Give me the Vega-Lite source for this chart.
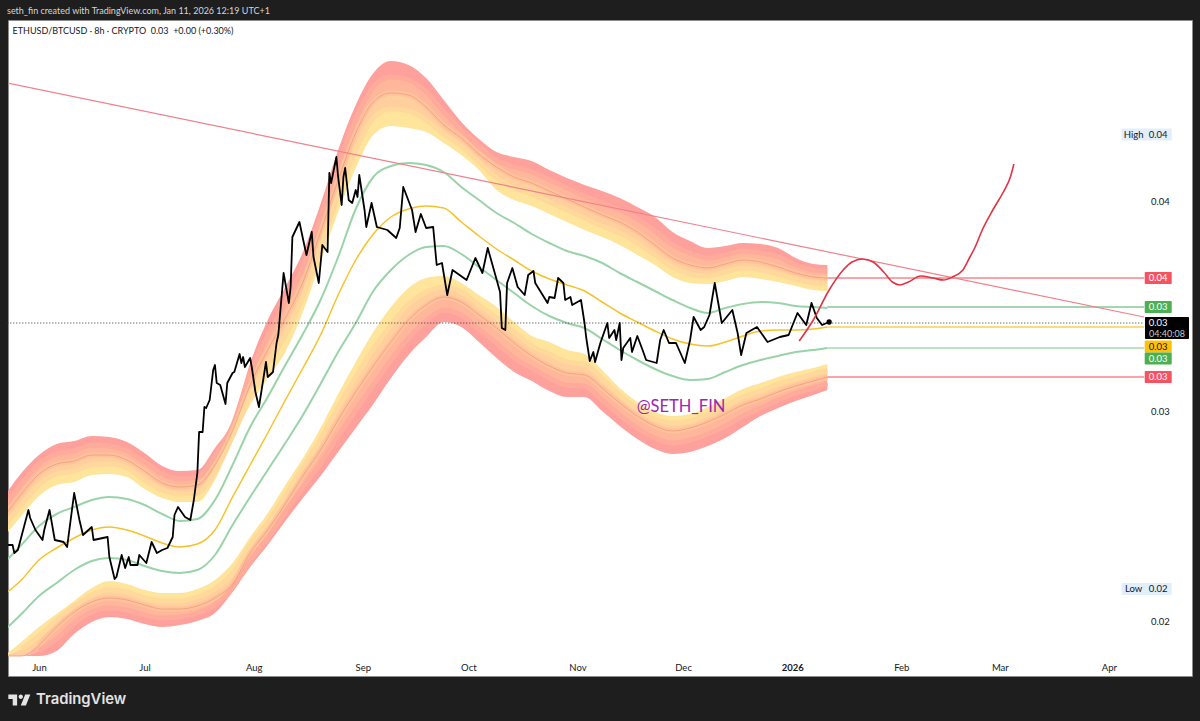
{
"$schema":"https://vega.github.io/schema/vega-lite/v6.json",
"width":1184,"height":656,
"autosize":{"type":"none"},
"padding":{"left":8,"top":20,"right":8,"bottom":45},
"background":"#1e1e1e",
"view":{"fill":"#ffffff","stroke":"#8c8c8c","strokeWidth":1},
"title":{"text":"seth_fin created with TradingView.com, Jan 11, 2026 12:19 UTC+1","anchor":"start","frame":"group","color":"#d6d6d6","fontSize":9,"fontWeight":"normal","font":"Lato","offset":4,"dx":-1},
"datasets":{
"bands":[
{"date":"2025-05-22","u0":0.02672,"u1":0.02632,"u2":0.02592,"u3":0.02552,"u4":0.02512,"gu":0.02408,"ye":0.0228,"gl":0.02136,"l4":0.02036,"l3":0.02036,"l2":0.02036,"l1":0.02036,"l0":0.02036},
{"date":"2025-05-27","u0":0.02768,"u1":0.02724,"u2":0.02684,"u3":0.0264,"u4":0.02596,"gu":0.0248,"ye":0.0234,"gl":0.02204,"l4":0.02092,"l3":0.02064,"l2":0.02036,"l1":0.02036,"l0":0.02036},
{"date":"2025-06-01","u0":0.0284,"u1":0.02804,"u2":0.02764,"u3":0.0272,"u4":0.02676,"gu":0.02556,"ye":0.0242,"gl":0.02276,"l4":0.02152,"l3":0.02116,"l2":0.0208,"l1":0.02056,"l0":0.02036},
{"date":"2025-06-06","u0":0.02884,"u1":0.02844,"u2":0.02804,"u3":0.02764,"u4":0.0272,"gu":0.02604,"ye":0.02468,"gl":0.02328,"l4":0.02204,"l3":0.0218,"l2":0.02152,"l1":0.02104,"l0":0.02056},
{"date":"2025-06-11","u0":0.02896,"u1":0.02856,"u2":0.02816,"u3":0.02776,"u4":0.02732,"gu":0.02632,"ye":0.02508,"gl":0.0238,"l4":0.02256,"l3":0.02236,"l2":0.02212,"l1":0.02168,"l0":0.02124},
{"date":"2025-06-16","u0":0.02916,"u1":0.0288,"u2":0.0284,"u3":0.028,"u4":0.0276,"gu":0.0266,"ye":0.0254,"gl":0.02416,"l4":0.02308,"l3":0.0228,"l2":0.02252,"l1":0.02212,"l0":0.02172},
{"date":"2025-06-21","u0":0.02912,"u1":0.02876,"u2":0.0284,"u3":0.02804,"u4":0.02764,"gu":0.02672,"ye":0.02552,"gl":0.02428,"l4":0.02336,"l3":0.023,"l2":0.02268,"l1":0.02228,"l0":0.02192},
{"date":"2025-06-26","u0":0.02892,"u1":0.02856,"u2":0.0282,"u3":0.02788,"u4":0.02752,"gu":0.02664,"ye":0.0254,"gl":0.0242,"l4":0.02324,"l3":0.02292,"l2":0.0226,"l1":0.0222,"l0":0.02184},
{"date":"2025-07-01","u0":0.02848,"u1":0.02812,"u2":0.02776,"u3":0.0274,"u4":0.02704,"gu":0.0264,"ye":0.02516,"gl":0.02396,"l4":0.023,"l3":0.02268,"l2":0.0224,"l1":0.022,"l0":0.02164},
{"date":"2025-07-06","u0":0.02796,"u1":0.02764,"u2":0.02728,"u3":0.027,"u4":0.02668,"gu":0.02604,"ye":0.02488,"gl":0.02376,"l4":0.02288,"l3":0.02256,"l2":0.02224,"l1":0.02188,"l0":0.02152},
{"date":"2025-07-11","u0":0.02776,"u1":0.02744,"u2":0.02712,"u3":0.02684,"u4":0.02652,"gu":0.02576,"ye":0.02472,"gl":0.02368,"l4":0.02288,"l3":0.02256,"l2":0.02224,"l1":0.02192,"l0":0.0216},
{"date":"2025-07-16","u0":0.0278,"u1":0.02752,"u2":0.0272,"u3":0.02688,"u4":0.02652,"gu":0.02584,"ye":0.02484,"gl":0.0238,"l4":0.02304,"l3":0.02272,"l2":0.02236,"l1":0.02208,"l0":0.02176},
{"date":"2025-07-21","u0":0.02868,"u1":0.02836,"u2":0.028,"u3":0.02772,"u4":0.0274,"gu":0.0266,"ye":0.0254,"gl":0.0244,"l4":0.0234,"l3":0.02304,"l2":0.02268,"l1":0.0224,"l0":0.02208},
{"date":"2025-07-26","u0":0.02976,"u1":0.02956,"u2":0.02936,"u3":0.02916,"u4":0.02896,"gu":0.028,"ye":0.02672,"gl":0.0256,"l4":0.02408,"l3":0.02368,"l2":0.02324,"l1":0.02308,"l0":0.02292},
{"date":"2025-07-31","u0":0.03208,"u1":0.03164,"u2":0.0312,"u3":0.0308,"u4":0.0304,"gu":0.02952,"ye":0.028,"gl":0.02672,"l4":0.02512,"l3":0.0248,"l2":0.02448,"l1":0.0242,"l0":0.02392},
{"date":"2025-08-05","u0":0.0338,"u1":0.0332,"u2":0.0326,"u3":0.03204,"u4":0.03148,"gu":0.03072,"ye":0.02928,"gl":0.0278,"l4":0.02608,"l3":0.02572,"l2":0.0254,"l1":0.02508,"l0":0.0248},
{"date":"2025-08-10","u0":0.03512,"u1":0.03452,"u2":0.03388,"u3":0.0332,"u4":0.03252,"gu":0.032,"ye":0.0306,"gl":0.02888,"l4":0.0272,"l3":0.0268,"l2":0.02644,"l1":0.02612,"l0":0.02576},
{"date":"2025-08-15","u0":0.03652,"u1":0.03592,"u2":0.03532,"u3":0.03472,"u4":0.03412,"gu":0.03324,"ye":0.03188,"gl":0.03,"l4":0.02828,"l3":0.02792,"l2":0.02756,"l1":0.02712,"l0":0.02668},
{"date":"2025-08-20","u0":0.03844,"u1":0.03788,"u2":0.03732,"u3":0.03672,"u4":0.03612,"gu":0.0346,"ye":0.0332,"gl":0.03124,"l4":0.02948,"l3":0.02904,"l2":0.0286,"l1":0.02808,"l0":0.02756},
{"date":"2025-08-25","u0":0.0406,"u1":0.04,"u2":0.0394,"u3":0.03876,"u4":0.03812,"gu":0.03632,"ye":0.0348,"gl":0.03252,"l4":0.03084,"l3":0.03032,"l2":0.0298,"l1":0.02916,"l0":0.02852},
{"date":"2025-08-30","u0":0.0424,"u1":0.04184,"u2":0.04128,"u3":0.0406,"u4":0.03988,"gu":0.03824,"ye":0.0362,"gl":0.03368,"l4":0.03212,"l3":0.03152,"l2":0.03092,"l1":0.0302,"l0":0.02948},
{"date":"2025-09-04","u0":0.04368,"u1":0.04312,"u2":0.04252,"u3":0.04188,"u4":0.0412,"gu":0.03952,"ye":0.03724,"gl":0.03496,"l4":0.03332,"l3":0.03264,"l2":0.03196,"l1":0.0312,"l0":0.03044},
{"date":"2025-09-09","u0":0.04416,"u1":0.04352,"u2":0.04288,"u3":0.04224,"u4":0.04156,"gu":0.03996,"ye":0.03792,"gl":0.0358,"l4":0.03432,"l3":0.0336,"l2":0.03292,"l1":0.0322,"l0":0.03148},
{"date":"2025-09-14","u0":0.044,"u1":0.0434,"u2":0.0428,"u3":0.04216,"u4":0.04148,"gu":0.04008,"ye":0.03824,"gl":0.0364,"l4":0.03508,"l3":0.03444,"l2":0.0338,"l1":0.03308,"l0":0.0324},
{"date":"2025-09-19","u0":0.04348,"u1":0.04292,"u2":0.04232,"u3":0.0418,"u4":0.04132,"gu":0.04,"ye":0.03836,"gl":0.03672,"l4":0.03548,"l3":0.03492,"l2":0.0344,"l1":0.03376,"l0":0.03312},
{"date":"2025-09-24","u0":0.0426,"u1":0.04212,"u2":0.0416,"u3":0.04124,"u4":0.04088,"gu":0.03972,"ye":0.03828,"gl":0.03676,"l4":0.03556,"l3":0.03512,"l2":0.03472,"l1":0.0342,"l0":0.03372},
{"date":"2025-09-29","u0":0.04172,"u1":0.0414,"u2":0.04108,"u3":0.04076,"u4":0.0404,"gu":0.03912,"ye":0.03772,"gl":0.03644,"l4":0.03528,"l3":0.03492,"l2":0.03452,"l1":0.034,"l0":0.03352},
{"date":"2025-10-04","u0":0.04104,"u1":0.04076,"u2":0.04044,"u3":0.04012,"u4":0.0398,"gu":0.0386,"ye":0.03716,"gl":0.03592,"l4":0.0348,"l3":0.0344,"l2":0.034,"l1":0.03344,"l0":0.03292},
{"date":"2025-10-09","u0":0.04052,"u1":0.0402,"u2":0.03992,"u3":0.03948,"u4":0.039,"gu":0.03808,"ye":0.03664,"gl":0.0354,"l4":0.03432,"l3":0.03388,"l2":0.03348,"l1":0.03288,"l0":0.03228},
{"date":"2025-10-14","u0":0.04032,"u1":0.03992,"u2":0.03952,"u3":0.03908,"u4":0.0386,"gu":0.03768,"ye":0.0362,"gl":0.03488,"l4":0.03372,"l3":0.03332,"l2":0.03288,"l1":0.03228,"l0":0.03172},
{"date":"2025-10-19","u0":0.04016,"u1":0.03972,"u2":0.03928,"u3":0.03884,"u4":0.03836,"gu":0.03724,"ye":0.03576,"gl":0.03436,"l4":0.03316,"l3":0.03276,"l2":0.03236,"l1":0.03188,"l0":0.03136},
{"date":"2025-10-24","u0":0.0398,"u1":0.0394,"u2":0.03896,"u3":0.03852,"u4":0.03804,"gu":0.03688,"ye":0.03544,"gl":0.03396,"l4":0.03292,"l3":0.03244,"l2":0.03196,"l1":0.03148,"l0":0.03096},
{"date":"2025-10-29","u0":0.03948,"u1":0.03908,"u2":0.03864,"u3":0.0382,"u4":0.03772,"gu":0.03656,"ye":0.0352,"gl":0.03368,"l4":0.0326,"l3":0.03212,"l2":0.03168,"l1":0.0312,"l0":0.03072},
{"date":"2025-11-03","u0":0.0392,"u1":0.03876,"u2":0.03832,"u3":0.03788,"u4":0.0374,"gu":0.03636,"ye":0.03496,"gl":0.03348,"l4":0.03244,"l3":0.03204,"l2":0.0316,"l1":0.03116,"l0":0.03072},
{"date":"2025-11-08","u0":0.03896,"u1":0.03848,"u2":0.038,"u3":0.03756,"u4":0.03712,"gu":0.03608,"ye":0.03452,"gl":0.03304,"l4":0.0318,"l3":0.03144,"l2":0.03108,"l1":0.0306,"l0":0.03016},
{"date":"2025-11-13","u0":0.03868,"u1":0.0382,"u2":0.03772,"u3":0.03728,"u4":0.0368,"gu":0.03568,"ye":0.03408,"gl":0.0326,"l4":0.03108,"l3":0.0308,"l2":0.03048,"l1":0.03,"l0":0.02956},
{"date":"2025-11-18","u0":0.03832,"u1":0.03784,"u2":0.03732,"u3":0.03688,"u4":0.0364,"gu":0.03532,"ye":0.03372,"gl":0.0322,"l4":0.03052,"l3":0.03024,"l2":0.02996,"l1":0.02948,"l0":0.02904},
{"date":"2025-11-23","u0":0.03792,"u1":0.03736,"u2":0.0368,"u3":0.0364,"u4":0.036,"gu":0.03496,"ye":0.03336,"gl":0.03184,"l4":0.03012,"l3":0.02984,"l2":0.02956,"l1":0.02908,"l0":0.02864},
{"date":"2025-11-28","u0":0.03732,"u1":0.0368,"u2":0.03628,"u3":0.03592,"u4":0.03552,"gu":0.0346,"ye":0.03304,"gl":0.03156,"l4":0.02996,"l3":0.02968,"l2":0.02936,"l1":0.02888,"l0":0.02844},
{"date":"2025-12-03","u0":0.03696,"u1":0.03648,"u2":0.036,"u3":0.03564,"u4":0.03528,"gu":0.03428,"ye":0.03284,"gl":0.0314,"l4":0.03004,"l3":0.02976,"l2":0.02948,"l1":0.029,"l0":0.02852},
{"date":"2025-12-08","u0":0.03668,"u1":0.03628,"u2":0.03588,"u3":0.03556,"u4":0.03524,"gu":0.03408,"ye":0.03276,"gl":0.03144,"l4":0.03032,"l3":0.03004,"l2":0.02972,"l1":0.02924,"l0":0.02876},
{"date":"2025-12-13","u0":0.03676,"u1":0.0364,"u2":0.03604,"u3":0.03572,"u4":0.03536,"gu":0.03428,"ye":0.03292,"gl":0.03172,"l4":0.03068,"l3":0.03036,"l2":0.03004,"l1":0.02956,"l0":0.02908},
{"date":"2025-12-18","u0":0.03688,"u1":0.03656,"u2":0.0362,"u3":0.03588,"u4":0.03552,"gu":0.03444,"ye":0.03316,"gl":0.032,"l4":0.03104,"l3":0.03072,"l2":0.0304,"l1":0.02996,"l0":0.02952},
{"date":"2025-12-23","u0":0.03684,"u1":0.03648,"u2":0.03612,"u3":0.0358,"u4":0.03544,"gu":0.03452,"ye":0.03336,"gl":0.0322,"l4":0.03128,"l3":0.03096,"l2":0.03064,"l1":0.03028,"l0":0.02996},
{"date":"2025-12-28","u0":0.03668,"u1":0.03632,"u2":0.03592,"u3":0.03564,"u4":0.03532,"gu":0.03448,"ye":0.0334,"gl":0.03236,"l4":0.03152,"l3":0.03124,"l2":0.03092,"l1":0.0306,"l0":0.03028},
{"date":"2026-01-02","u0":0.03628,"u1":0.036,"u2":0.03568,"u3":0.03544,"u4":0.03516,"gu":0.03436,"ye":0.0334,"gl":0.03252,"l4":0.03172,"l3":0.03144,"l2":0.03116,"l1":0.03088,"l0":0.03056},
{"date":"2026-01-07","u0":0.03604,"u1":0.0358,"u2":0.03552,"u3":0.03528,"u4":0.035,"gu":0.03432,"ye":0.03344,"gl":0.0326,"l4":0.03188,"l3":0.03164,"l2":0.03136,"l1":0.03108,"l0":0.0308},
{"date":"2026-01-11","u0":0.036,"u1":0.03576,"u2":0.03548,"u3":0.03524,"u4":0.03496,"gu":0.03428,"ye":0.03352,"gl":0.03268,"l4":0.03204,"l3":0.0318,"l2":0.03152,"l1":0.03128,"l0":0.031}
],
"ethbtc":[
{"date":"2025-05-23","c":0.0248},{"date":"2025-05-24T12:00Z","c":0.0248},{"date":"2025-05-25","c":0.02448},{"date":"2025-05-26","c":0.0246},{"date":"2025-05-27T12:00Z","c":0.0254},{"date":"2025-05-29","c":0.0262},{"date":"2025-05-29T12:00Z","c":0.02588},{"date":"2025-05-31","c":0.0254},
{"date":"2025-06-02","c":0.025},{"date":"2025-06-02T12:00Z","c":0.0254},{"date":"2025-06-04","c":0.0262},{"date":"2025-06-05T12:00Z","c":0.025},{"date":"2025-06-08","c":0.02492},{"date":"2025-06-09","c":0.02472},{"date":"2025-06-11","c":0.02688},{"date":"2025-06-12T12:00Z","c":0.0258},{"date":"2025-06-13T12:00Z","c":0.0252},{"date":"2025-06-16","c":0.02552},{"date":"2025-06-16T12:00Z","c":0.025},{"date":"2025-06-20T12:00Z","c":0.02512},{"date":"2025-06-21","c":0.02432},{"date":"2025-06-22T12:00Z","c":0.02344},{"date":"2025-06-23","c":0.02352},{"date":"2025-06-24T12:00Z","c":0.0244},{"date":"2025-06-25T12:00Z","c":0.02388},{"date":"2025-06-26T12:00Z","c":0.02432},{"date":"2025-06-27","c":0.024},{"date":"2025-06-29","c":0.024},{"date":"2025-06-29T12:00Z","c":0.0244},
{"date":"2025-07-01T12:00Z","c":0.02408},{"date":"2025-07-03","c":0.02492},{"date":"2025-07-04T12:00Z","c":0.02448},{"date":"2025-07-06","c":0.0246},{"date":"2025-07-07T12:00Z","c":0.02468},{"date":"2025-07-09","c":0.02512},{"date":"2025-07-09T12:00Z","c":0.026},{"date":"2025-07-10T12:00Z","c":0.02632},{"date":"2025-07-12T12:00Z","c":0.02592},{"date":"2025-07-14","c":0.0258},{"date":"2025-07-15","c":0.0266},{"date":"2025-07-16","c":0.02768},{"date":"2025-07-16T12:00Z","c":0.02932},{"date":"2025-07-17T12:00Z","c":0.02932},{"date":"2025-07-18","c":0.03032},{"date":"2025-07-18T12:00Z","c":0.03028},{"date":"2025-07-19T12:00Z","c":0.0306},{"date":"2025-07-20T12:00Z","c":0.0318},{"date":"2025-07-21","c":0.032},{"date":"2025-07-21T12:00Z","c":0.03128},{"date":"2025-07-22T12:00Z","c":0.0312},{"date":"2025-07-24","c":0.03044},{"date":"2025-07-24T12:00Z","c":0.03128},{"date":"2025-07-26","c":0.03168},{"date":"2025-07-26T12:00Z","c":0.03172},{"date":"2025-07-28","c":0.03244},{"date":"2025-07-28T12:00Z","c":0.03208},{"date":"2025-07-29","c":0.03232},{"date":"2025-07-29T12:00Z","c":0.03192},{"date":"2025-07-31","c":0.03228},{"date":"2025-07-31T12:00Z","c":0.03188},
{"date":"2025-08-01T12:00Z","c":0.03092},{"date":"2025-08-02T12:00Z","c":0.03032},{"date":"2025-08-04T12:00Z","c":0.03212},{"date":"2025-08-05","c":0.03152},{"date":"2025-08-06T12:00Z","c":0.03172},{"date":"2025-08-07T12:00Z","c":0.03288},{"date":"2025-08-08","c":0.0332},{"date":"2025-08-09T12:00Z","c":0.03568},{"date":"2025-08-10T12:00Z","c":0.03488},{"date":"2025-08-11","c":0.03448},{"date":"2025-08-11T12:00Z","c":0.03512},{"date":"2025-08-12","c":0.03712},{"date":"2025-08-14","c":0.03772},{"date":"2025-08-15T12:00Z","c":0.03672},{"date":"2025-08-16","c":0.0364},{"date":"2025-08-17T12:00Z","c":0.03732},{"date":"2025-08-18","c":0.03632},{"date":"2025-08-19T12:00Z","c":0.03528},{"date":"2025-08-20T12:00Z","c":0.0368},{"date":"2025-08-22","c":0.03652},{"date":"2025-08-22T12:00Z","c":0.03968},{"date":"2025-08-23","c":0.03928},{"date":"2025-08-24T12:00Z","c":0.04032},{"date":"2025-08-25","c":0.03952},{"date":"2025-08-26","c":0.0384},{"date":"2025-08-26T12:00Z","c":0.03952},{"date":"2025-08-27","c":0.03988},{"date":"2025-08-28","c":0.0386},{"date":"2025-08-29","c":0.03848},{"date":"2025-08-30","c":0.039},{"date":"2025-08-30T12:00Z","c":0.03872},{"date":"2025-08-31","c":0.0396},
{"date":"2025-09-01T12:00Z","c":0.0382},{"date":"2025-09-02","c":0.03752},{"date":"2025-09-03T12:00Z","c":0.03848},{"date":"2025-09-05","c":0.03752},{"date":"2025-09-08","c":0.0374},{"date":"2025-09-10T12:00Z","c":0.03708},{"date":"2025-09-11T12:00Z","c":0.03748},{"date":"2025-09-12T12:00Z","c":0.03912},{"date":"2025-09-15","c":0.0382},{"date":"2025-09-16","c":0.03732},{"date":"2025-09-17T12:00Z","c":0.03804},{"date":"2025-09-19","c":0.03748},{"date":"2025-09-21","c":0.03752},{"date":"2025-09-22","c":0.036},{"date":"2025-09-23T12:00Z","c":0.03608},{"date":"2025-09-25","c":0.0348},{"date":"2025-09-26T12:00Z","c":0.0358},{"date":"2025-09-30T12:00Z","c":0.0354},
{"date":"2025-10-03","c":0.03628},{"date":"2025-10-05","c":0.03568},{"date":"2025-10-06T12:00Z","c":0.03668},{"date":"2025-10-08T12:00Z","c":0.03568},{"date":"2025-10-10","c":0.03492},{"date":"2025-10-10T12:00Z","c":0.03348},{"date":"2025-10-11T12:00Z","c":0.0334},{"date":"2025-10-12","c":0.03528},{"date":"2025-10-13T12:00Z","c":0.03588},{"date":"2025-10-15","c":0.03512},{"date":"2025-10-17","c":0.0348},{"date":"2025-10-18","c":0.0356},{"date":"2025-10-19T12:00Z","c":0.03576},{"date":"2025-10-20","c":0.03528},{"date":"2025-10-23T12:00Z","c":0.03448},{"date":"2025-10-24","c":0.03472},{"date":"2025-10-25T12:00Z","c":0.03468},{"date":"2025-10-26T12:00Z","c":0.03548},{"date":"2025-10-28","c":0.03528},{"date":"2025-10-28T12:00Z","c":0.0346},{"date":"2025-10-30","c":0.03472},{"date":"2025-10-30T12:00Z","c":0.0344},
{"date":"2025-11-02","c":0.0346},{"date":"2025-11-03","c":0.03368},{"date":"2025-11-03T12:00Z","c":0.03308},{"date":"2025-11-04T12:00Z","c":0.03216},{"date":"2025-11-05T12:00Z","c":0.03252},{"date":"2025-11-06","c":0.03212},{"date":"2025-11-07T12:00Z","c":0.03288},{"date":"2025-11-09T12:00Z","c":0.03368},{"date":"2025-11-10","c":0.03308},{"date":"2025-11-11T12:00Z","c":0.0334},{"date":"2025-11-12","c":0.033},{"date":"2025-11-13","c":0.03368},{"date":"2025-11-13T12:00Z","c":0.0322},{"date":"2025-11-14","c":0.03268},{"date":"2025-11-16","c":0.03308},{"date":"2025-11-16T12:00Z","c":0.03252},{"date":"2025-11-18","c":0.03316},{"date":"2025-11-19T12:00Z","c":0.0326},{"date":"2025-11-20T12:00Z","c":0.0322},{"date":"2025-11-23T12:00Z","c":0.03208},{"date":"2025-11-24T12:00Z","c":0.033},{"date":"2025-11-25T12:00Z","c":0.0334},{"date":"2025-11-27","c":0.03288},{"date":"2025-11-29","c":0.03288},
{"date":"2025-12-01T12:00Z","c":0.03208},{"date":"2025-12-03","c":0.033},{"date":"2025-12-04","c":0.03392},{"date":"2025-12-06","c":0.0334},{"date":"2025-12-07","c":0.03352},{"date":"2025-12-08T12:00Z","c":0.034},{"date":"2025-12-10","c":0.03528},{"date":"2025-12-12","c":0.03368},{"date":"2025-12-15","c":0.0342},{"date":"2025-12-16T12:00Z","c":0.03328},{"date":"2025-12-17T12:00Z","c":0.0324},{"date":"2025-12-19","c":0.03328},{"date":"2025-12-22","c":0.03352},{"date":"2025-12-25","c":0.03292},{"date":"2025-12-28T12:00Z","c":0.03312},{"date":"2025-12-31","c":0.0332},
{"date":"2026-01-02T12:00Z","c":0.03408},{"date":"2026-01-05","c":0.0336},{"date":"2026-01-06T12:00Z","c":0.03448},{"date":"2026-01-08","c":0.03388},{"date":"2026-01-09T12:00Z","c":0.0336},{"date":"2026-01-11T12:00Z","c":0.03372}
],
"forecast":[
{"date":"2026-01-03","f":0.03296},{"date":"2026-01-07","f":0.0338},{"date":"2026-01-11T12:00Z","f":0.035},{"date":"2026-01-15T12:00Z","f":0.0358},{"date":"2026-01-18","f":0.03612},{"date":"2026-01-21","f":0.03624},{"date":"2026-01-24","f":0.03612},{"date":"2026-01-27","f":0.03572},{"date":"2026-01-29T12:00Z","f":0.03532},{"date":"2026-01-31T12:00Z","f":0.0352},{"date":"2026-02-03","f":0.03532},{"date":"2026-02-06T12:00Z","f":0.03556},{"date":"2026-02-10","f":0.03548},{"date":"2026-02-13","f":0.0354},{"date":"2026-02-15T12:00Z","f":0.03552},{"date":"2026-02-18T12:00Z","f":0.0358},{"date":"2026-02-20T12:00Z","f":0.03632},{"date":"2026-02-22","f":0.03672},{"date":"2026-02-24","f":0.0374},{"date":"2026-02-27","f":0.0382},{"date":"2026-03-02","f":0.03892},{"date":"2026-03-04","f":0.03952},{"date":"2026-03-05","f":0.04004}
],
"trend":[{"date":"2025-05-23","t":0.04328},{"date":"2026-04-11","t":0.03392}],
"levels":[
{"date":"2026-01-11","end":"2026-04-11","price":0.03548,"kind":"outer high"},
{"date":"2026-01-11","end":"2026-04-11","price":0.03432,"kind":"band high"},
{"date":"2026-01-11","end":"2026-04-11","price":0.03352,"kind":"basis"},
{"date":"2026-01-11","end":"2026-04-11","price":0.03268,"kind":"band low"},
{"date":"2026-01-11","end":"2026-04-11","price":0.03152,"kind":"outer low"}
],
"last":[{"date":"2025-05-23","end":"2026-04-11","price":0.03368}],
"tip":[{"date":"2026-01-11T12:00Z","price":0.03372}],
"tags":[
{"date":"2026-04-15","price":0.03548,"label":"0.04","kind":"outer high"},
{"date":"2026-04-15","price":0.03432,"label":"0.03","kind":"band high"},
{"date":"2026-04-15","price":0.03274,"label":"0.03","kind":"basis"},
{"date":"2026-04-15","price":0.03226,"label":"0.03","kind":"band low"},
{"date":"2026-04-15","price":0.03152,"label":"0.03","kind":"outer low"}
],
"range":[
{"date":"2026-04-15","price":0.04122,"label":"0.04"},
{"date":"2026-04-15","price":0.02304,"label":"0.02"}
],
"rangeName":[
{"date":"2026-04-08","price":0.04122,"label":"High"},
{"date":"2026-04-08","price":0.02304,"label":"Low"}
],
"countdownBox":[{"date":"2026-04-17T12:00Z","price":0.03348}],
"countdownPrice":[{"date":"2026-04-15","price":0.03368,"label":"0.03"}],
"countdownTime":[{"date":"2026-04-17T12:00Z","price":0.03326,"label":"04:40:08"}],
"symbol":[{"date":"2025-05-24T12:00Z","price":0.04536,"label":"ETHUSD/BTCUSD · 8h · CRYPTO\u00a0 0.03\u00a0 +0.00 (+0.30%)"}],
"watermark":[{"date":"2025-11-30T10:00Z","price":0.03032,"label":"@SETH_FIN"}],
"logo":[{"date":"2025-05-26T10:00Z","price":0.0186}],
"brand":[{"date":"2025-05-31T04:00Z","price":0.0186,"label":"TradingView"}]
},
"encoding":{
"x":{"field":"date","type":"temporal","title":null,
"scale":{"type":"utc","nice":false,"domain":[{"year":2025,"month":5,"date":23,"hours":4,"minutes":48,"utc":true},{"year":2026,"month":4,"date":24,"hours":14,"minutes":24,"utc":true}]},
"axis":{"orient":"bottom","domain":false,"ticks":false,"grid":false,"tickCount":{"interval":"month","step":1},"labelOverlap":false,"labelFlush":false,"labelBaseline":"middle","labelPadding":-9,"labelFont":"Lato","labelFontSize":9.5,"labelColor":"#131722","labelExpr":"utcmonth(datum.value)==0 ? utcFormat(datum.value,'%Y') : utcFormat(datum.value,'%b')","labelFontWeight":{"condition":{"test":"utcmonth(datum.value)==0","value":"bold"},"value":"normal"}}}
},
"layer":[
{"data":{"name":"bands"},"mark":{"type":"area","interpolate":"monotone","color":"#fea09c","clip":true},
 "encoding":{"y":{"field":"u0","type":"quantitative","title":null,"scale":{"nice":false,"zero":false,"domain":[0.01956,0.0458]},"axis":{"orient":"right","domain":false,"ticks":false,"grid":false,"values":[0.03856,0.03016,0.02176],"format":".2f","labelAlign":"center","labelPadding":-32,"labelFont":"Lato","labelFontSize":9.5,"labelColor":"#131722"}},"y2":{"field":"u1"}}},
{"data":{"name":"bands"},"mark":{"type":"area","interpolate":"monotone","color":"#ffb79c","clip":true},"encoding":{"y":{"field":"u1","type":"quantitative","axis":null},"y2":{"field":"u2"}}},
{"data":{"name":"bands"},"mark":{"type":"area","interpolate":"monotone","color":"#ffcf9d","clip":true},"encoding":{"y":{"field":"u2","type":"quantitative","axis":null},"y2":{"field":"u3"}}},
{"data":{"name":"bands"},"mark":{"type":"area","interpolate":"monotone","color":"#ffe49b","clip":true},"encoding":{"y":{"field":"u3","type":"quantitative","axis":null},"y2":{"field":"u4"}}},
{"data":{"name":"bands"},"mark":{"type":"area","interpolate":"monotone","color":"#ffe49b","clip":true},"encoding":{"y":{"field":"l4","type":"quantitative","axis":null},"y2":{"field":"l3"}}},
{"data":{"name":"bands"},"mark":{"type":"area","interpolate":"monotone","color":"#ffcf9d","clip":true},"encoding":{"y":{"field":"l3","type":"quantitative","axis":null},"y2":{"field":"l2"}}},
{"data":{"name":"bands"},"mark":{"type":"area","interpolate":"monotone","color":"#ffb79c","clip":true},"encoding":{"y":{"field":"l2","type":"quantitative","axis":null},"y2":{"field":"l1"}}},
{"data":{"name":"bands"},"mark":{"type":"area","interpolate":"monotone","color":"#fea09c","clip":true},"encoding":{"y":{"field":"l1","type":"quantitative","axis":null},"y2":{"field":"l0"}}},
{"data":{"name":"bands"},"mark":{"type":"line","interpolate":"monotone","color":"#ffab9c","strokeWidth":5,"clip":true},"encoding":{"y":{"field":"u1","type":"quantitative","axis":null}}},
{"data":{"name":"bands"},"mark":{"type":"line","interpolate":"monotone","color":"#ffc39c","strokeWidth":5,"clip":true},"encoding":{"y":{"field":"u2","type":"quantitative","axis":null}}},
{"data":{"name":"bands"},"mark":{"type":"line","interpolate":"monotone","color":"#ffd99c","strokeWidth":5,"clip":true},"encoding":{"y":{"field":"u3","type":"quantitative","axis":null}}},
{"data":{"name":"bands"},"transform":[{"filter":"datum.l3 > 0.0204"}],"mark":{"type":"line","interpolate":"monotone","color":"#ffd99c","strokeWidth":5,"clip":true},"encoding":{"y":{"field":"l3","type":"quantitative","axis":null}}},
{"data":{"name":"bands"},"transform":[{"filter":"datum.l2 > 0.0204"}],"mark":{"type":"line","interpolate":"monotone","color":"#ffc39c","strokeWidth":5,"clip":true},"encoding":{"y":{"field":"l2","type":"quantitative","axis":null}}},
{"data":{"name":"bands"},"transform":[{"filter":"datum.l1 > 0.0204"}],"mark":{"type":"line","interpolate":"monotone","color":"#ffab9c","strokeWidth":5,"clip":true},"encoding":{"y":{"field":"l1","type":"quantitative","axis":null}}},
{"data":{"name":"bands"},"mark":{"type":"line","interpolate":"monotone","color":"#f09a7c","strokeWidth":0.8,"clip":true},"encoding":{"y":{"field":"u2","type":"quantitative","axis":null}}},
{"data":{"name":"bands"},"mark":{"type":"line","interpolate":"monotone","color":"#f09a7c","strokeWidth":0.8,"clip":true},"encoding":{"y":{"field":"l2","type":"quantitative","axis":null}}},
{"data":{"name":"bands"},"mark":{"type":"line","interpolate":"monotone","color":"#9bd3a8","strokeWidth":2,"clip":true},"encoding":{"y":{"field":"gu","type":"quantitative","axis":null}}},
{"data":{"name":"bands"},"mark":{"type":"line","interpolate":"monotone","color":"#9bd3a8","strokeWidth":2,"clip":true},"encoding":{"y":{"field":"gl","type":"quantitative","axis":null}}},
{"data":{"name":"bands"},"mark":{"type":"line","interpolate":"monotone","color":"#f6c22b","strokeWidth":1.5,"clip":true},"encoding":{"y":{"field":"ye","type":"quantitative","axis":null}}},
{"data":{"name":"levels"},"mark":{"type":"rule","strokeWidth":1.3},
 "encoding":{"y":{"field":"price","type":"quantitative","axis":null},"x2":{"field":"end"},
 "color":{"field":"kind","type":"nominal","legend":null,"scale":{"domain":["outer high","band high","basis","band low","outer low"],"range":["#f8858b","#86c995","#f6cf5a","#a6d7b1","#f8858b"]}}}},
{"data":{"name":"last"},"mark":{"type":"rule","color":"#333333","strokeWidth":1,"strokeDash":[1,2]},"encoding":{"y":{"field":"price","type":"quantitative","axis":null},"x2":{"field":"end"}}},
{"data":{"name":"trend"},"mark":{"type":"line","color":"#f0808c","strokeWidth":1.2,"clip":true},"encoding":{"y":{"field":"t","type":"quantitative","axis":null}}},
{"data":{"name":"ethbtc"},"mark":{"type":"line","color":"#000000","strokeWidth":1.8,"strokeJoin":"round","clip":true},"encoding":{"y":{"field":"c","type":"quantitative","axis":null}}},
{"data":{"name":"tip"},"mark":{"type":"point","filled":true,"color":"#000000","size":28,"opacity":1},"encoding":{"y":{"field":"price","type":"quantitative","axis":null}}},
{"data":{"name":"forecast"},"mark":{"type":"line","interpolate":"monotone","color":"#e03444","strokeWidth":1.6},"encoding":{"y":{"field":"f","type":"quantitative","axis":null}}},
{"data":{"name":"tags"},"mark":{"type":"rect","width":27,"height":12,"cornerRadius":1},
 "encoding":{"y":{"field":"price","type":"quantitative","axis":null},
 "color":{"field":"kind","type":"nominal","legend":null,"scale":{"domain":["outer high","band high","basis","band low","outer low"],"range":["#f7525f","#4caf50","#ffc107","#4caf50","#f7525f"]}}}},
{"data":{"name":"range"},"mark":{"type":"rect","width":27,"height":12,"color":"#e3eefb"},"encoding":{"y":{"field":"price","type":"quantitative","axis":null}}},
{"data":{"name":"rangeName"},"mark":{"type":"rect","width":24,"height":12,"color":"#e3eefb"},"encoding":{"y":{"field":"price","type":"quantitative","axis":null}}},
{"data":{"name":"countdownBox"},"mark":{"type":"rect","width":44,"height":22,"color":"#000000","cornerRadius":1},"encoding":{"y":{"field":"price","type":"quantitative","axis":null}}},
{"data":{"name":"tags"},"mark":{"type":"text","font":"Lato","fontSize":9.5},
 "encoding":{"y":{"field":"price","type":"quantitative","axis":null},"text":{"field":"label"},
 "color":{"field":"kind","type":"nominal","legend":null,"scale":{"domain":["outer high","band high","basis","band low","outer low"],"range":["#ffffff","#ffffff","#131722","#ffffff","#ffffff"]}}}},
{"data":{"name":"range"},"mark":{"type":"text","font":"Lato","fontSize":9.5,"color":"#131722"},"encoding":{"y":{"field":"price","type":"quantitative","axis":null},"text":{"field":"label"}}},
{"data":{"name":"rangeName"},"mark":{"type":"text","font":"Lato","fontSize":9.5,"color":"#131722"},"encoding":{"y":{"field":"price","type":"quantitative","axis":null},"text":{"field":"label"}}},
{"data":{"name":"countdownPrice"},"mark":{"type":"text","font":"Lato","fontSize":9.5,"color":"#ffffff"},"encoding":{"y":{"field":"price","type":"quantitative","axis":null},"text":{"field":"label"}}},
{"data":{"name":"countdownTime"},"mark":{"type":"text","font":"Lato","fontSize":9,"color":"#c8c8c8"},"encoding":{"y":{"field":"price","type":"quantitative","axis":null},"text":{"field":"label"}}},
{"data":{"name":"symbol"},"mark":{"type":"text","font":"Lato","fontSize":9,"align":"left","color":"#131722"},"encoding":{"y":{"field":"price","type":"quantitative","axis":null},"text":{"field":"label"}}},
{"data":{"name":"watermark"},"mark":{"type":"text","font":"Lato","fontSize":16.5,"color":"#9c27b0"},"encoding":{"y":{"field":"price","type":"quantitative","axis":null},"text":{"field":"label"}}},
{"data":{"name":"logo"},"mark":{"type":"point","filled":true,"color":"#e4e4e4","opacity":1,"strokeWidth":0,"size":484,"clip":false,"shape":"M-0.2 -0.5H-1V-0.1H-0.6V0.5H-0.2Z M0.6 0.5H0.133L0.533 -0.5H1Z M0.133 -0.1A0.2 0.2 0 1 0 0.133 -0.5A0.2 0.2 0 1 0 0.133 -0.1Z"},"encoding":{"y":{"field":"price","type":"quantitative","axis":null}}},
{"data":{"name":"brand"},"mark":{"type":"text","font":"Inter","fontSize":14.8,"fontWeight":600,"align":"left","color":"#e4e4e4"},"encoding":{"y":{"field":"price","type":"quantitative","axis":null},"text":{"field":"label"}}}
],
"resolve":{"scale":{"color":"independent"},"axis":{"y":"independent"}}
}
